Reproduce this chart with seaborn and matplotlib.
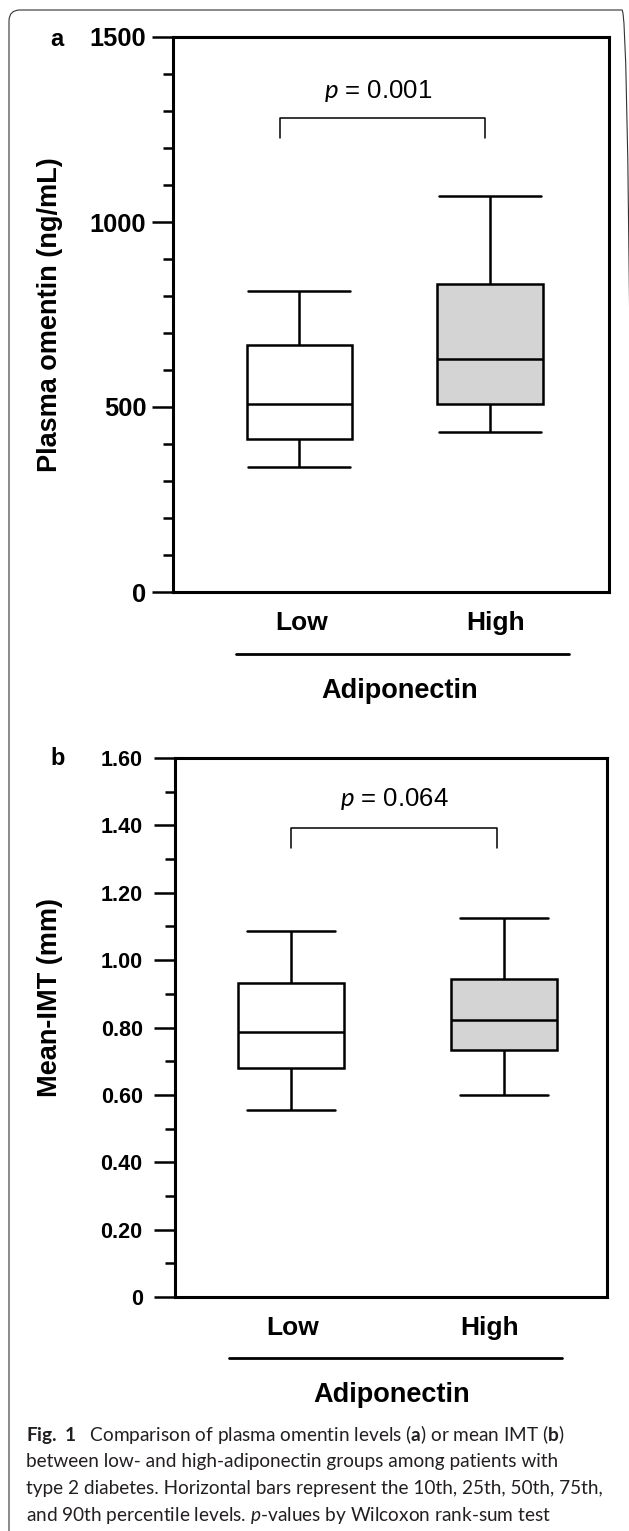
import matplotlib
matplotlib.use("Agg")
import matplotlib.pyplot as plt
import matplotlib.patches as mpatches
import matplotlib.transforms as mtransforms
from matplotlib.lines import Line2D
from matplotlib.ticker import MultipleLocator
import numpy as np
import pandas as pd
import seaborn as sns

# groups on the x axis
groups = ["Low", "High"]

# 10th, 25th, 50th, 75th, 90th percentiles
omentin_low = [337, 413, 508, 667, 814]
omentin_high = [432, 509, 629, 833, 1069]
imt_low = [0.556, 0.681, 0.786, 0.932, 1.085]
imt_high = [0.601, 0.734, 0.823, 0.944, 1.124]

omentin_ticks = [0, 500, 1000, 1500]
omentin_ticklabels = ["0", "500", "1000", "1500"]
imt_ticks = [0, 0.2, 0.4, 0.6, 0.8, 1.0, 1.2, 1.4, 1.6]
imt_ticklabels = ["0", "0.20", "0.40", "0.60", "0.80", "1.00", "1.20", "1.40", "1.60"]

p_omentin = "0.001"
p_imt = "0.064"

caption_lines = [
    r"$\mathbf{Fig.\ 1}$   Comparison of plasma omentin levels ($\mathbf{a}$) or mean IMT ($\mathbf{b}$)",
    "between low- and high-adiponectin groups among patients with",
    "type 2 diabetes. Horizontal bars represent the 10th, 25th, 50th, 75th,",
    r"and 90th percentile levels. $p$-values by Wilcoxon rank-sum test",
]

sns.set_style("ticks")
plt.rcParams["font.family"] = ["Liberation Sans", "DejaVu Sans"]
plt.rcParams["mathtext.fontset"] = "custom"
plt.rcParams["mathtext.rm"] = "Lato"
plt.rcParams["mathtext.it"] = "Lato:italic"
plt.rcParams["mathtext.bf"] = "Lato:bold"
for key in ["text.color", "axes.labelcolor", "xtick.color", "ytick.color"]:
    plt.rcParams[key] = "black"

W, H = 629, 1531
fig = plt.figure(figsize=(W / 100, H / 100), dpi=100)


def fx(x):
    return x / W


def fy(y):
    return 1 - y / H


def panel(rect, low, high, ticks, ticklabels, minor, ylim, xlim, box_w, cap_w,
          tick_size, tick_pad, xlab_pos, xlab_pad, ylabel, ylabel_y,
          bracket, p_text, p_pos):
    ax = fig.add_axes(rect)
    df = pd.DataFrame({"group": np.repeat(groups, len(low)),
                       "value": list(low) + list(high)})
    sns.boxplot(data=df, x="group", y="value", hue="group", order=groups,
                hue_order=groups, palette=["white", "#d4d4d4"], whis=(0, 100),
                width=box_w, capwidths=cap_w, linecolor="black", linewidth=1.8,
                fliersize=0, legend=False, ax=ax)
    ax.set_xlim(*xlim)
    ax.set_ylim(*ylim)
    ax.set_yticks(ticks, ticklabels)
    ax.yaxis.set_minor_locator(MultipleLocator(minor))
    ax.tick_params(axis="y", which="major", length=15, width=1.8, color="black",
                   labelsize=tick_size, pad=tick_pad)
    ax.tick_params(axis="y", which="minor", length=7, width=1.8, color="black")
    for lab in ax.get_yticklabels():
        lab.set_fontweight("bold")
    ax.set_xticks(xlab_pos, groups)
    ax.tick_params(axis="x", length=0, labelsize=19, pad=xlab_pad)
    for lab in ax.get_xticklabels():
        lab.set_fontweight("bold")
    ax.set_xlabel("")
    ax.set_ylabel(ylabel, fontsize=19.5, fontweight="bold", va="center")
    ax.yaxis.set_label_coords((50 - rect[0] * W) / (rect[2] * W), ylabel_y)
    for s in ax.spines.values():
        s.set_linewidth(2.2)
        s.set_color("black")
    # significance bracket
    x0, x1, y_leg, y_top = bracket
    ax.plot([x0, x0, x1, x1], [y_leg, y_top, y_top, y_leg], color="black", lw=1.1)
    ax.text(p_pos[0], p_pos[1], r"$p$ = " + p_text, fontsize=18.5,
            ha="center", va="center")
    return ax


ax_a = panel([fx(173), fy(592), fx(609) - fx(173), (592 - 37) / H],
             omentin_low, omentin_high, omentin_ticks, omentin_ticklabels, 100,
             (0, 1500), (-0.663, 1.623), 0.554, 0.535, 18.3, 4.3,
             [0.01, 1.03], 14, "Plasma omentin (ng/mL)", 0.5,
             (-0.10, 0.975, 1227, 1282), p_omentin, (0.41, 1354))

ax_b = panel([fx(175), fy(1297), fx(607) - fx(175), (1297 - 758) / H],
             imt_low, imt_high, imt_ticks, imt_ticklabels, 0.1,
             (0, 1.6), (-0.5445, 1.4835), 0.50, 0.41, 15.5, 8.3,
             [0.01, 0.93], 14, "Mean-IMT (mm)", 0.555,
             (0.0, 0.967, 1.334, 1.393), p_imt, (0.484, 1.477))

# grouping lines and "Adiponectin" under each panel
for x0, x1, y_line, xc, y_txt in [(236, 569, 654, 400, 691), (229, 562, 1358, 392, 1395)]:
    fig.add_artist(Line2D([fx(x0), fx(x1)], [fy(y_line), fy(y_line)],
                          color="black", lw=2.0, transform=fig.transFigure))
    fig.text(fx(xc), fy(y_txt), "Adiponectin", fontsize=19.5, fontweight="bold",
             ha="center", va="center")

# panel letters
fig.text(fx(57), fy(40), "a", fontsize=17, fontweight="bold", ha="center", va="center")
fig.text(fx(58), fy(758), "b", fontsize=17, fontweight="bold", ha="center", va="center")

# caption
for i, line in enumerate(caption_lines):
    fig.text(fx(26), fy(1435 + i * 26.7), line, fontsize=13.7, family="Lato",
             color="#231f20", ha="left", va="center")

# outer rounded frame
frame = mpatches.FancyBboxPatch((9, -20), 624, H - 10 + 20, boxstyle="round,pad=0,rounding_size=11",
                                fill=False, edgecolor="#333333", lw=0.8,
                                transform=mtransforms.IdentityTransform())
fig.add_artist(frame)

fig.savefig("out.png", dpi=100)
